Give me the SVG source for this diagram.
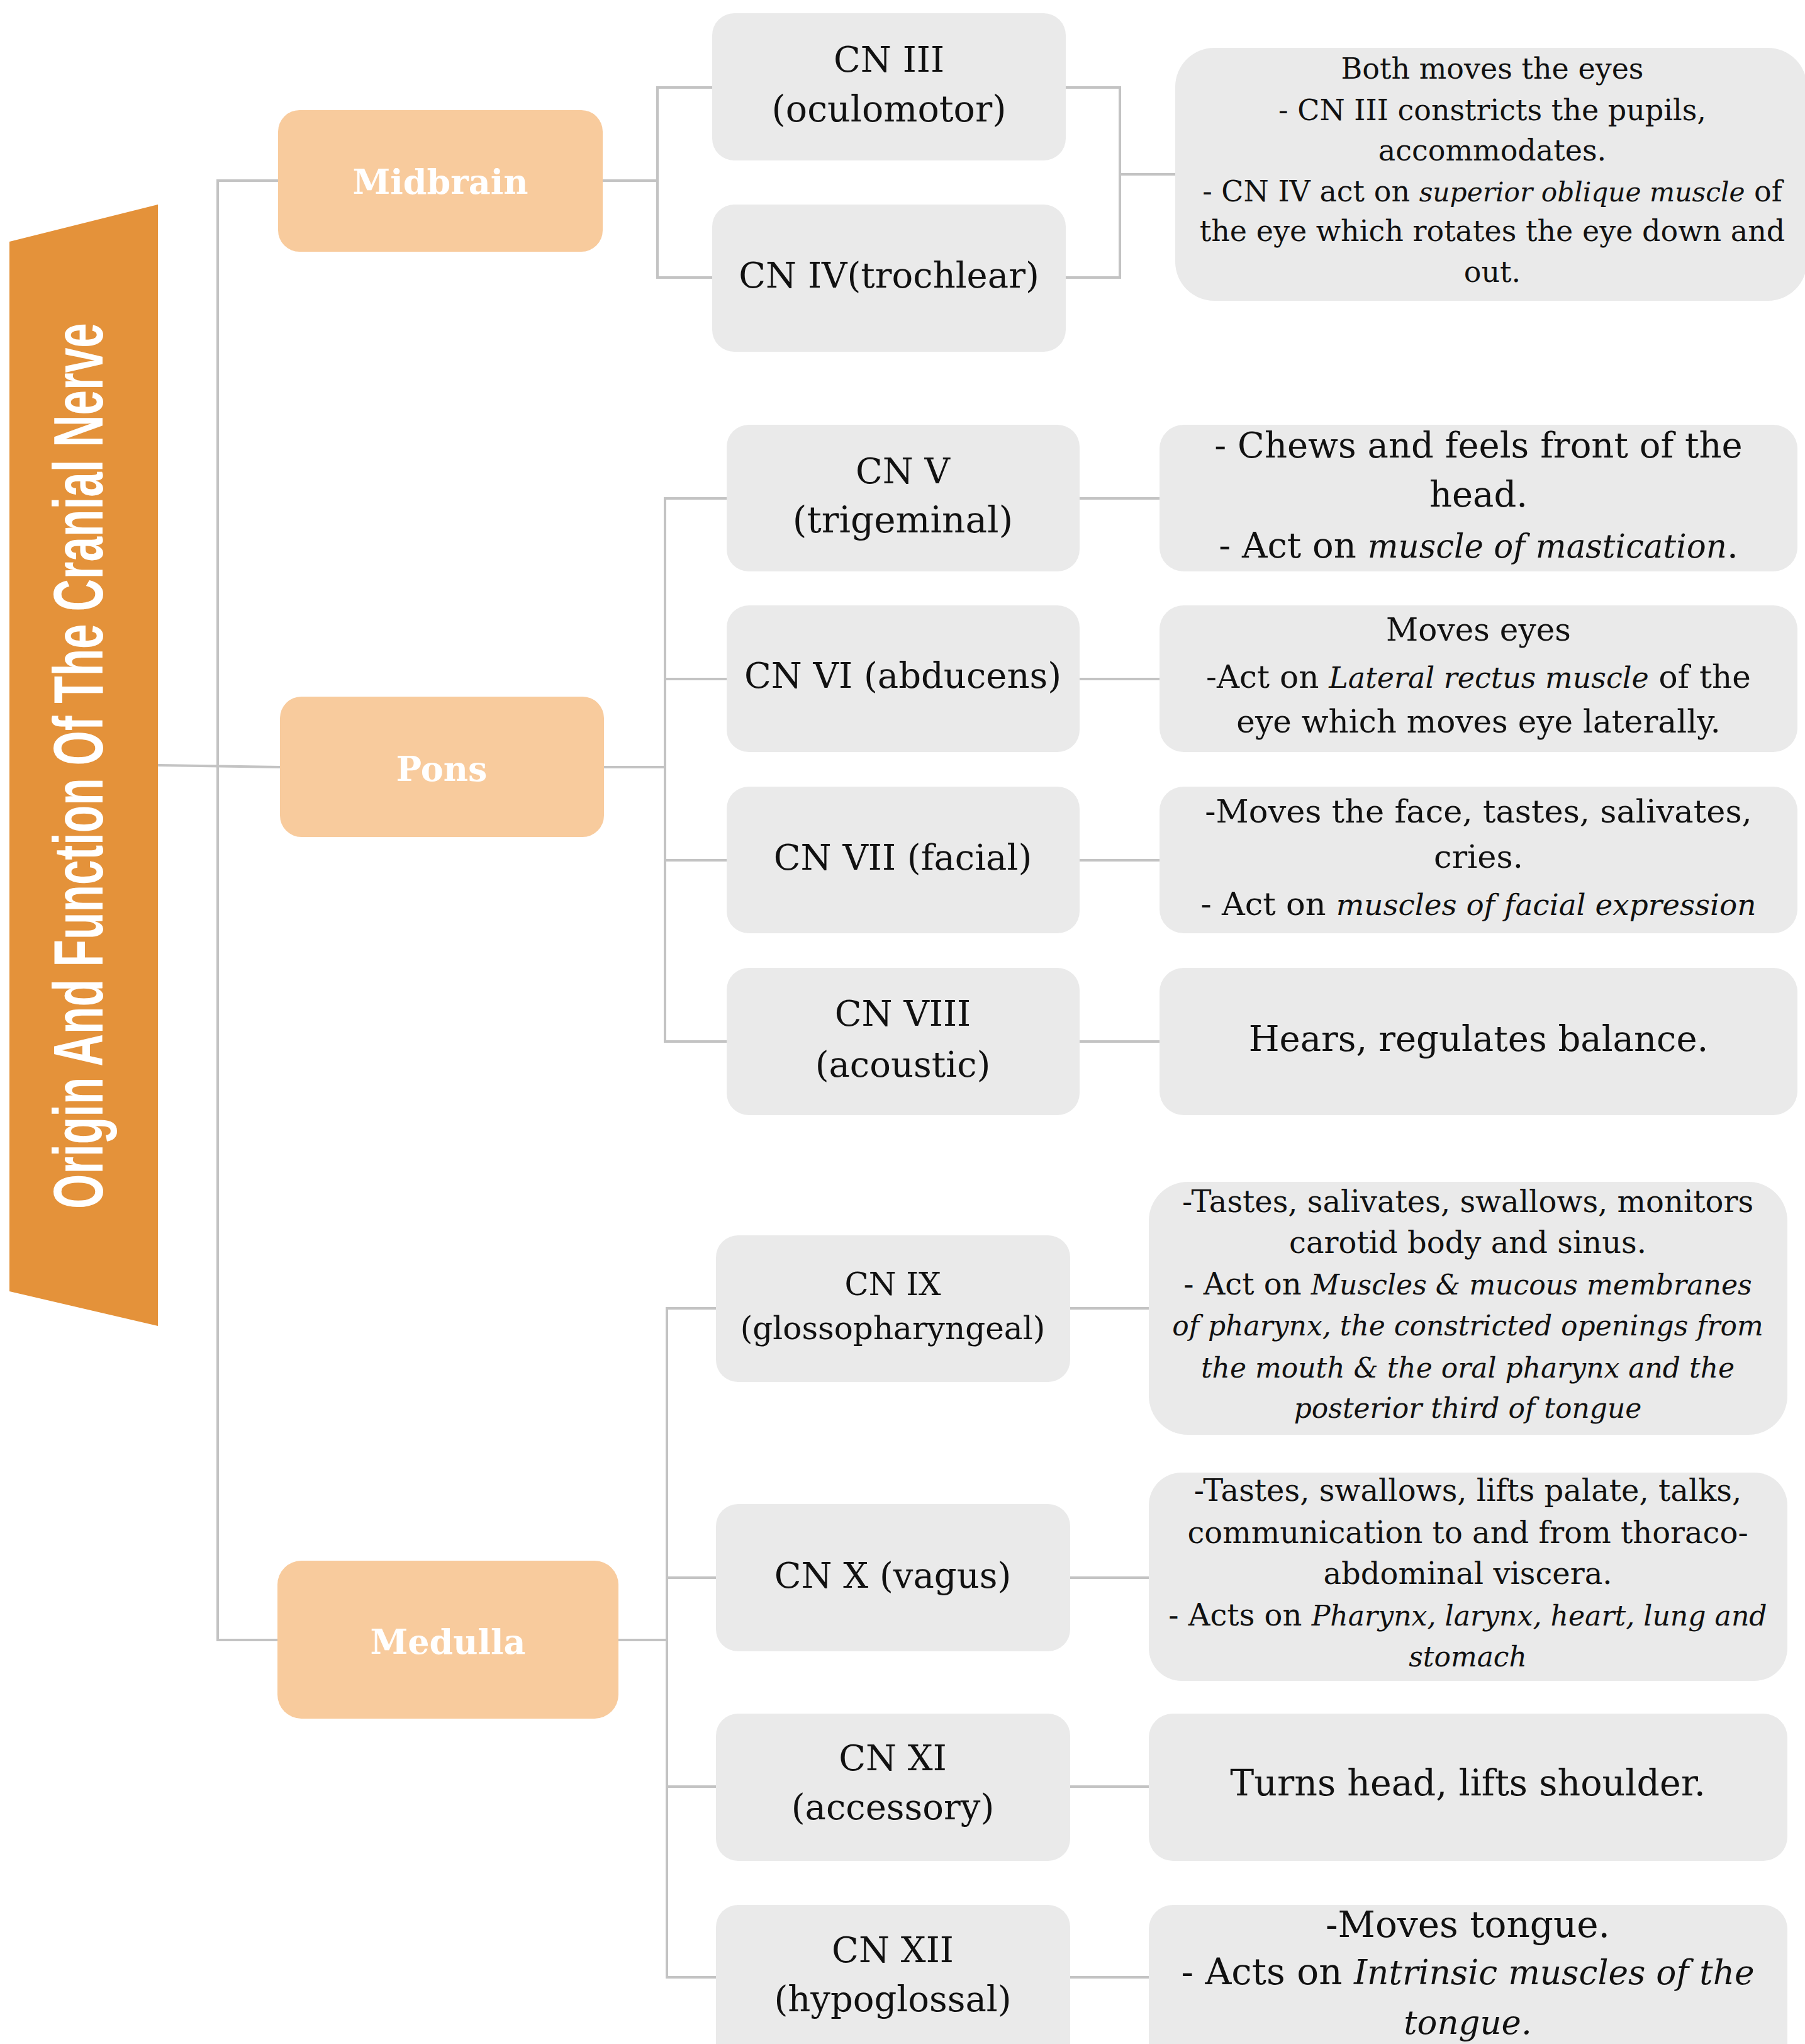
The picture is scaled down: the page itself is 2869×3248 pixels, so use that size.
<svg xmlns="http://www.w3.org/2000/svg" width="2869" height="3248" viewBox="0 0 2869 3248">
<style>
.bg{fill:#ffffff}
.region{fill:#F8CB9D}
.cn{fill:#EAEAEA}
.rt{font-family:"DejaVu Serif","Liberation Serif",serif;font-weight:bold;fill:#ffffff;text-anchor:middle;font-size:54px}
.t{font-family:"DejaVu Serif","Liberation Serif",serif;fill:#111111;text-anchor:middle}
.i{font-style:italic;font-size:0.92em}
.it{font-style:italic}
.conn{fill:none;stroke:#C3C3C3;stroke-width:4}
</style>
<rect class="bg" x="0" y="0" width="2869" height="3248"/>
<g id="connectors">
<path class="conn" d="M251,1216 L445,1219"/>
<path class="conn" d="M442,287 H346 V2606 H441"/>
<path class="conn" d="M958,287 H1045 M1132,139 H1045 V441 H1132"/>
<path class="conn" d="M1694,139 H1780 V441 H1694 M1780,277 H1868"/>
<path class="conn" d="M960,1219 H1057 M1155,792 H1057 V1655 H1155 M1057,1079 H1155 M1057,1367 H1155"/>
<path class="conn" d="M1716,792 H1843 M1716,1079 H1843 M1716,1367 H1843 M1716,1655 H1843"/>
<path class="conn" d="M983,2606 H1060 M1138,2079 H1060 V3142 H1138 M1060,2507 H1138 M1060,2839 H1138"/>
<path class="conn" d="M1701,2079 H1826 M1701,2507 H1826 M1701,2839 H1826 M1701,3142 H1826"/>
</g>
<g id="title">
<polygon points="15,384 251,325 251,2107 15,2052" fill="#E4923A"/>
<text transform="translate(163,1217) rotate(-90) scale(0.635,1)" x="0" y="0" font-family="'Liberation Sans',Arial,sans-serif" font-weight="bold" font-size="112" fill="#ffffff" text-anchor="middle">Origin And Function Of The Cranial Nerve</text>
</g>
<g id="midbrain">
<rect class="region" x="442" y="175" width="516" height="225" rx="34"/>
<text class="rt" x="700" y="308">Midbrain</text>
</g>
<g id="pons">
<rect class="region" x="445" y="1107" width="515" height="223" rx="34"/>
<text class="rt" x="702" y="1241">Pons</text>
</g>
<g id="medulla">
<rect class="region" x="441" y="2480" width="542" height="251" rx="38"/>
<text class="rt" x="712" y="2628">Medulla</text>
</g>
<g id="cn3">
<rect class="cn" x="1132" y="21" width="562" height="234" rx="35"/>
<text class="t" x="1413" y="114" font-size="56">CN III</text>
<text class="t" x="1413" y="193" font-size="57">(oculomotor)</text>
</g>
<g id="cn4">
<rect class="cn" x="1132" y="325" width="562" height="234" rx="35"/>
<text class="t" x="1413" y="457" font-size="56">CN IV(trochlear)</text>
</g>
<g id="desc-midbrain">
<rect class="cn" x="1868" y="76" width="1004" height="402" rx="62"/>
<text class="t" x="2372" y="125" font-size="46">Both moves the eyes</text>
<text class="t" x="2372" y="191" font-size="46">- CN III constricts the pupils,</text>
<text class="t" x="2372" y="255" font-size="46">accommodates.</text>
<text class="t" x="2372" y="320" font-size="46">- CN IV act on <tspan class="i">superior oblique muscle</tspan> of</text>
<text class="t" x="2372" y="383" font-size="46">the eye which rotates the eye down and</text>
<text class="t" x="2372" y="448" font-size="46">out.</text>
</g>
<g id="cn5">
<rect class="cn" x="1155" y="675" width="561" height="233" rx="35"/>
<text class="t" x="1435" y="768" font-size="56">CN V</text>
<text class="t" x="1435" y="846" font-size="58">(trigeminal)</text>
</g>
<g id="desc-cn5">
<rect class="cn" x="1843" y="675" width="1014" height="233" rx="38"/>
<text class="t" x="2350" y="727" font-size="56">- Chews and feels front of the</text>
<text class="t" x="2350" y="805" font-size="56">head.</text>
<text class="t" x="2350" y="886" font-size="56">- Act on <tspan class="i">muscle of mastication</tspan>.</text>
</g>
<g id="cn6">
<rect class="cn" x="1155" y="962" width="561" height="233" rx="35"/>
<text class="t" x="1435" y="1093" font-size="56">CN VI (abducens)</text>
</g>
<g id="desc-cn6">
<rect class="cn" x="1843" y="962" width="1014" height="233" rx="38"/>
<text class="t" x="2350" y="1018" font-size="50">Moves eyes</text>
<text class="t" x="2350" y="1093" font-size="50">-Act on <tspan class="i">Lateral rectus muscle</tspan> of the</text>
<text class="t" x="2350" y="1164" font-size="50">eye which moves eye laterally.</text>
</g>
<g id="cn7">
<rect class="cn" x="1155" y="1250" width="561" height="233" rx="35"/>
<text class="t" x="1435" y="1382" font-size="56">CN VII (facial)</text>
</g>
<g id="desc-cn7">
<rect class="cn" x="1843" y="1250" width="1014" height="233" rx="38"/>
<text class="t" x="2350" y="1307" font-size="51">-Moves the face, tastes, salivates,</text>
<text class="t" x="2350" y="1379" font-size="51">cries.</text>
<text class="t" x="2350" y="1454" font-size="51">- Act on <tspan class="i">muscles of facial expression</tspan></text>
</g>
<g id="cn8">
<rect class="cn" x="1155" y="1538" width="561" height="234" rx="35"/>
<text class="t" x="1435" y="1630" font-size="56">CN VIII</text>
<text class="t" x="1435" y="1711" font-size="56">(acoustic)</text>
</g>
<g id="desc-cn8">
<rect class="cn" x="1843" y="1538" width="1014" height="234" rx="38"/>
<text class="t" x="2350" y="1670" font-size="56">Hears, regulates balance.</text>
</g>
<g id="cn9">
<rect class="cn" x="1138" y="1963" width="563" height="233" rx="35"/>
<text class="t" x="1419" y="2058" font-size="50">CN IX</text>
<text class="t" x="1419" y="2128" font-size="50">(glossopharyngeal)</text>
</g>
<g id="desc-cn9">
<rect class="cn" x="1826" y="1878" width="1015" height="402" rx="62"/>
<text class="t" x="2333" y="1926" font-size="48">-Tastes, salivates, swallows, monitors</text>
<text class="t" x="2333" y="1991" font-size="48">carotid body and sinus.</text>
<text class="t" x="2333" y="2057" font-size="48">- Act on <tspan class="i">Muscles &amp; mucous membranes</tspan></text>
<text class="t it" x="2333" y="2122" font-size="44">of pharynx, the constricted openings from</text>
<text class="t it" x="2333" y="2189" font-size="44">the mouth &amp; the oral pharynx and the</text>
<text class="t it" x="2333" y="2253" font-size="44">posterior third of tongue</text>
</g>
<g id="cn10">
<rect class="cn" x="1138" y="2390" width="563" height="234" rx="35"/>
<text class="t" x="1419" y="2523" font-size="56">CN X (vagus)</text>
</g>
<g id="desc-cn10">
<rect class="cn" x="1826" y="2340" width="1015" height="331" rx="52"/>
<text class="t" x="2333" y="2385" font-size="48">-Tastes, swallows, lifts palate, talks,</text>
<text class="t" x="2333" y="2452" font-size="48">communication to and from thoraco-</text>
<text class="t" x="2333" y="2517" font-size="48">abdominal viscera.</text>
<text class="t" x="2333" y="2583" font-size="48">- Acts on <tspan class="i">Pharynx, larynx, heart, lung and</tspan></text>
<text class="t it" x="2333" y="2648" font-size="44">stomach</text>
</g>
<g id="cn11">
<rect class="cn" x="1138" y="2723" width="563" height="234" rx="35"/>
<text class="t" x="1419" y="2813" font-size="56">CN XI</text>
<text class="t" x="1419" y="2891" font-size="56">(accessory)</text>
</g>
<g id="desc-cn11">
<rect class="cn" x="1826" y="2723" width="1015" height="234" rx="38"/>
<text class="t" x="2333" y="2853" font-size="57">Turns head, lifts shoulder.</text>
</g>
<g id="cn12">
<rect class="cn" x="1138" y="3027" width="563" height="260" rx="35"/>
<text class="t" x="1419" y="3118" font-size="56">CN XII</text>
<text class="t" x="1419" y="3196" font-size="56">(hypoglossal)</text>
</g>
<g id="desc-cn12">
<rect class="cn" x="1826" y="3027" width="1015" height="260" rx="38"/>
<text class="t" x="2333" y="3078" font-size="58">-Moves tongue.</text>
<text class="t" x="2333" y="3153" font-size="58">- Acts on <tspan class="i">Intrinsic muscles of the</tspan></text>
<text class="t it" x="2333" y="3232" font-size="53">tongue.</text>
</g>
</svg>
